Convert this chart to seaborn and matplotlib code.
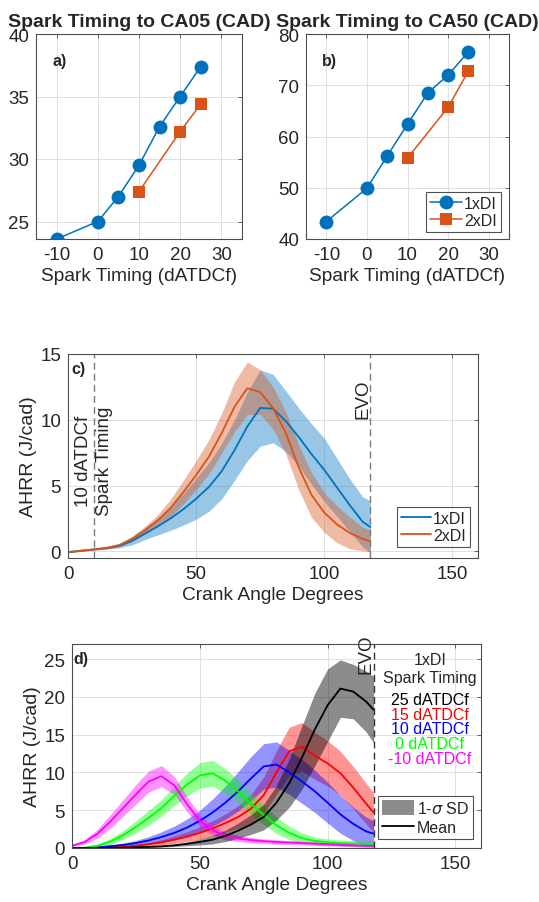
import numpy as np
import pandas as pd
import matplotlib
matplotlib.use('Agg')
import matplotlib.pyplot as plt
import seaborn as sns
from matplotlib.lines import Line2D
from matplotlib.patches import Patch

# ---------------- data ----------------
spark_1x = [-10, 0, 5, 10, 15, 20, 25]
spark_2x = [10, 20, 25]
ca05_1x = [23.6, 25.0, 27.0, 29.5, 32.6, 35.0, 37.4]
ca05_2x = [27.4, 32.2, 34.4]
ca50_1x = [43.4, 49.9, 56.2, 62.4, 68.5, 72.0, 76.5]
ca50_2x = [55.8, 65.7, 72.8]

cad = [0, 5, 10, 15, 20, 25, 30, 35, 40, 45, 50, 55, 60, 65, 70, 75, 80,
       85, 90, 95, 100, 105, 110, 115, 118]

# panel c: 10 dATDCf spark timing, 1xDI vs 2xDI
c_1x_mean = [-0.05, 0.05, 0.15, 0.25, 0.42, 0.8, 1.35, 1.9, 2.5, 3.2, 4.0, 4.9,
             6.1, 7.7, 9.5, 10.9, 10.85, 9.9, 8.7, 7.4, 6.2, 4.85, 3.5, 2.25, 1.85]
c_1x_sd = [0.05, 0.05, 0.05, 0.08, 0.15, 0.3, 0.45, 0.65, 0.9, 1.2, 1.55, 1.85,
           2.1, 2.3, 2.6, 2.9, 2.6, 2.3, 2.2, 2.3, 2.4, 2.2, 2.0, 1.9, 2.0]
c_2x_mean = [-0.05, 0.05, 0.15, 0.27, 0.48, 0.95, 1.6, 2.35, 3.3, 4.5, 5.8, 7.2,
             9.0, 11.0, 12.4, 12.1, 10.9, 9.0, 6.4, 4.3, 2.95, 2.05, 1.4, 0.95, 0.78]
c_2x_sd = [0.05, 0.05, 0.05, 0.08, 0.12, 0.2, 0.3, 0.45, 0.65, 0.9, 1.1, 1.3,
           1.5, 1.9, 2.0, 1.7, 1.6, 1.6, 1.7, 1.7, 1.5, 1.4, 1.2, 0.9, 0.8]

# panel d: 1xDI, spark timing sweep
d_labels = ['25 dATDCf', '15 dATDCf', '10 dATDCf', '0 dATDCf', '-10 dATDCf']
d_colors = ['#000000', '#FF0000', '#0000FF', '#00FF00', '#FF00FF']
d_p25_mean = [0.0, 0.0, 0.0, 0.02, 0.05, 0.1, 0.15, 0.22, 0.35, 0.55, 0.8, 1.1,
              1.6, 2.3, 3.1, 4.1, 6.0, 8.6, 12.0, 15.7, 18.9, 21.1, 20.7, 19.4, 18.3]
d_p25_sd = [0.0, 0.0, 0.02, 0.03, 0.05, 0.06, 0.08, 0.1, 0.15, 0.25, 0.4, 0.55,
            0.75, 1.0, 1.3, 1.7, 2.3, 3.2, 4.2, 4.8, 4.8, 3.8, 3.6, 4.0, 4.4]
d_p15_mean = [0.0, 0.0, 0.02, 0.08, 0.15, 0.3, 0.5, 0.75, 1.1, 1.5, 2.0, 2.6,
              3.3, 4.1, 5.2, 7.0, 10.0, 12.8, 13.4, 12.2, 11.2, 9.9, 8.0, 5.9, 4.7]
d_p15_sd = [0.0, 0.0, 0.02, 0.05, 0.08, 0.15, 0.25, 0.35, 0.5, 0.65, 0.8, 1.0,
            1.2, 1.5, 1.9, 2.4, 2.9, 3.2, 3.2, 3.1, 3.0, 2.9, 2.8, 2.7, 2.6]
d_p10_mean = [0.0, 0.0, 0.08, 0.25, 0.4, 0.65, 1.0, 1.45, 2.0, 2.7, 3.6, 4.7,
              6.0, 7.5, 9.2, 10.8, 11.05, 10.0, 8.8, 7.5, 6.0, 4.45, 3.2, 2.2, 1.9]
d_p10_sd = [0.02, 0.05, 0.1, 0.15, 0.25, 0.35, 0.5, 0.7, 0.9, 1.15, 1.4, 1.8,
            2.2, 2.6, 2.9, 3.0, 3.0, 2.9, 2.9, 2.8, 2.7, 2.5, 2.2, 1.9, 1.7]
d_0_mean = [0.0, 0.05, 0.3, 0.85, 1.7, 2.8, 4.0, 5.3, 6.9, 8.4, 9.6, 9.9,
            8.9, 7.5, 5.8, 4.4, 3.0, 2.0, 1.3, 0.95, 0.75, 0.65, 0.6, 0.55, 0.55]
d_0_sd = [0.05, 0.1, 0.2, 0.4, 0.6, 0.8, 1.0, 1.1, 1.3, 1.5, 1.7, 1.7,
          1.6, 1.5, 1.4, 1.3, 1.1, 0.9, 0.7, 0.5, 0.45, 0.4, 0.4, 0.4, 0.4]
d_m10_mean = [0.3, 0.8, 1.9, 3.5, 5.3, 7.1, 8.8, 9.5, 8.3, 5.8, 3.6, 2.35,
              1.6, 1.25, 1.05, 0.9, 0.8, 0.72, 0.65, 0.58, 0.5, 0.42, 0.35, 0.3, 0.28]
d_m10_sd = [0.1, 0.3, 0.6, 0.9, 1.1, 1.3, 1.4, 1.4, 1.2, 1.0, 0.8, 0.6,
            0.5, 0.4, 0.35, 0.3, 0.3, 0.25, 0.25, 0.25, 0.2, 0.2, 0.2, 0.2, 0.2]

BLUE = '#0072BD'
ORANGE = '#D95319'

# ---------------- style ----------------
sns.set_style('white')
plt.rcParams['font.family'] = ['Liberation Sans', 'DejaVu Sans']
plt.rcParams['mathtext.fontset'] = 'dejavusans'
plt.rcParams['axes.unicode_minus'] = False

fig = plt.figure(figsize=(5.39, 9.03), dpi=100)
W, H = 539.0, 903.0


def add_ax(l, r, t, b):
    return fig.add_axes([l / W, (H - b) / H, (r - l) / W, (b - t) / H])


def style(ax):
    ax.grid(True, color='#e0e0e0', lw=0.7)
    ax.set_axisbelow(True)
    for s in ax.spines.values():
        s.set_visible(True)
        s.set_color('#4d4d4d')
        s.set_linewidth(0.8)
    ax.tick_params(direction='in', length=3, width=0.6, color='#4d4d4d',
                   top=True, right=True, labelsize=13.5, labelcolor='#262626',
                   pad=5)


ax_a = add_ax(36, 242, 35, 240)
ax_b = add_ax(306, 509, 35, 240)
ax_c = add_ax(68, 478, 355, 559)
ax_d = add_ax(72, 481, 645, 849)

# ---------------- panels a, b ----------------
for ax, y1, y2, title, tag, ylim, yt in [
        (ax_a, ca05_1x, ca05_2x, 'Spark Timing to CA05 (CAD)', 'a)', (23.6, 40), [25, 30, 35, 40]),
        (ax_b, ca50_1x, ca50_2x, 'Spark Timing to CA50 (CAD)', 'b)', (40, 80), [40, 50, 60, 70, 80])]:
    style(ax)
    sns.lineplot(x=spark_1x, y=y1, color=BLUE, marker='o', markersize=10,
                 markeredgewidth=0, lw=1.1, ax=ax, label='1xDI')
    sns.lineplot(x=spark_2x, y=y2, color=ORANGE, marker='s', markersize=8,
                 markeredgewidth=0, lw=1.1, ax=ax, label='2xDI')
    ax.set_xlim(-15, 35)
    ax.set_ylim(*ylim)
    ax.set_xticks([-10, 0, 10, 20, 30])
    ax.set_yticks(yt)
    ax.set_xlabel('Spark Timing (dATDCf)', fontsize=13.8, color='#262626', labelpad=3)
    ax.set_ylabel('')
    ax.set_title(title, fontsize=14, fontweight='bold', pad=6)
    ax.text(0.08, 0.87, tag, transform=ax.transAxes, fontsize=11.5,
            fontweight='bold', va='center', ha='left')
    for sp in ax.spines.values():
        sp.set_zorder(5)

ax_a.get_legend().remove()
leg = ax_b.legend(loc='lower right', bbox_to_anchor=(0.96, 0.034), fontsize=11.5,
                  frameon=True, fancybox=False, edgecolor='#262626',
                  handlelength=2.0, borderpad=0.25, labelspacing=0.15,
                  handletextpad=0.1, borderaxespad=0)
leg.get_frame().set_linewidth(0.8)

# ---------------- panel c ----------------
style(ax_c)
for mean, sd, col, lab in [(c_1x_mean, c_1x_sd, BLUE, '1xDI'),
                           (c_2x_mean, c_2x_sd, ORANGE, '2xDI')]:
    m = np.array(mean)
    s = np.array(sd)
    ax_c.fill_between(cad, m - s, m + s, color=col, alpha=0.4, lw=0)
    sns.lineplot(x=cad, y=mean, color=col, lw=1.3, ax=ax_c, label=lab)
ax_c.axvline(10, color='#7a7a7a', ls=(0, (5, 3)), lw=1.0)
ax_c.axvline(118, color='#7a7a7a', ls=(0, (5, 3)), lw=1.0)
ax_c.text(10, 6.9, '10 dATDCf\nSpark Timing', rotation=90, ha='center',
          va='center', multialignment='center', fontsize=13.5, linespacing=1.3)
ax_c.text(118.3, 10.1, 'EVO', rotation=90, ha='right', va='bottom', fontsize=13.5)
ax_c.text(0.008, 0.965, 'c)', transform=ax_c.transAxes, fontsize=11.5,
          fontweight='bold', va='top', ha='left')
ax_c.set_xlim(0, 160)
ax_c.set_ylim(-0.5, 15)
ax_c.set_xticks([0, 50, 100, 150])
ax_c.set_yticks([0, 5, 10, 15])
ax_c.set_xlabel('Crank Angle Degrees', fontsize=13.8, color='#262626', labelpad=3)
ax_c.set_ylabel('AHRR (J/cad)', fontsize=14, color='#262626', labelpad=2)
legc = ax_c.legend(loc='lower right', bbox_to_anchor=(0.98, 0.054), fontsize=11.5,
                   frameon=True, fancybox=False, edgecolor='#262626',
                   handlelength=1.9, borderpad=0.25, labelspacing=0.15,
                   handletextpad=0.1, borderaxespad=0)
legc.get_frame().set_linewidth(0.8)

# ---------------- panel d ----------------
style(ax_d)
d_means = [d_p15_mean, d_p10_mean, d_0_mean, d_m10_mean, d_p25_mean]
d_sds = [d_p15_sd, d_p10_sd, d_0_sd, d_m10_sd, d_p25_sd]
order = [1, 2, 3, 4, 0]
for mean, sd, idx in zip(d_means, d_sds, order):
    col = d_colors[idx]
    m = np.array(mean)
    s = np.array(sd)
    ax_d.fill_between(cad, m - s, m + s, color=col, alpha=0.42 if idx else 0.45, lw=0)
    sns.lineplot(x=cad, y=mean, color=col, lw=1.3, ax=ax_d, legend=False)
ax_d.axvline(118, color='#333333', ls=(0, (5, 3)), lw=1.0)
ax_d.text(118.3, 23.2, 'EVO', rotation=90, ha='right', va='bottom',
          fontsize=13.5, clip_on=False)
ax_d.text(0.003, 0.965, 'd)', transform=ax_d.transAxes, fontsize=11.5,
          fontweight='bold', va='top', ha='left')
ax_d.text(140, 25.0, '1xDI', ha='center', va='center', fontsize=11.5)
ax_d.text(140, 22.5, 'Spark Timing', ha='center', va='center', fontsize=11.5)
for lab, col, yy in zip(d_labels, d_colors, [19.6, 17.7, 15.8, 13.8, 11.85]):
    ax_d.text(140, yy, lab, ha='center', va='center', fontsize=11.5, color=col)
ax_d.set_xlim(0, 160)
ax_d.set_ylim(0, 27)
ax_d.set_xticks([0, 50, 100, 150])
ax_d.set_yticks([0, 5, 10, 15, 20, 25])
ax_d.set_xlabel('Crank Angle Degrees', fontsize=13.8, color='#262626', labelpad=3)
ax_d.set_ylabel('AHRR (J/cad)', fontsize=14, color='#262626', labelpad=2)
hd = [Patch(facecolor='black', alpha=0.45, edgecolor='none', label=r'1-$\sigma$ SD'),
      Line2D([], [], color='black', lw=1.3, label='Mean')]
legd = ax_d.legend(handles=hd, loc='lower right', bbox_to_anchor=(0.981, 0.042),
                   fontsize=11.5, frameon=True, fancybox=False, edgecolor='#262626',
                   handlelength=2.0, handleheight=1.1, borderpad=0.25,
                   labelspacing=0.2, handletextpad=0.2, borderaxespad=0)
legd.get_frame().set_linewidth(0.8)

fig.savefig('out.png', dpi=100)
